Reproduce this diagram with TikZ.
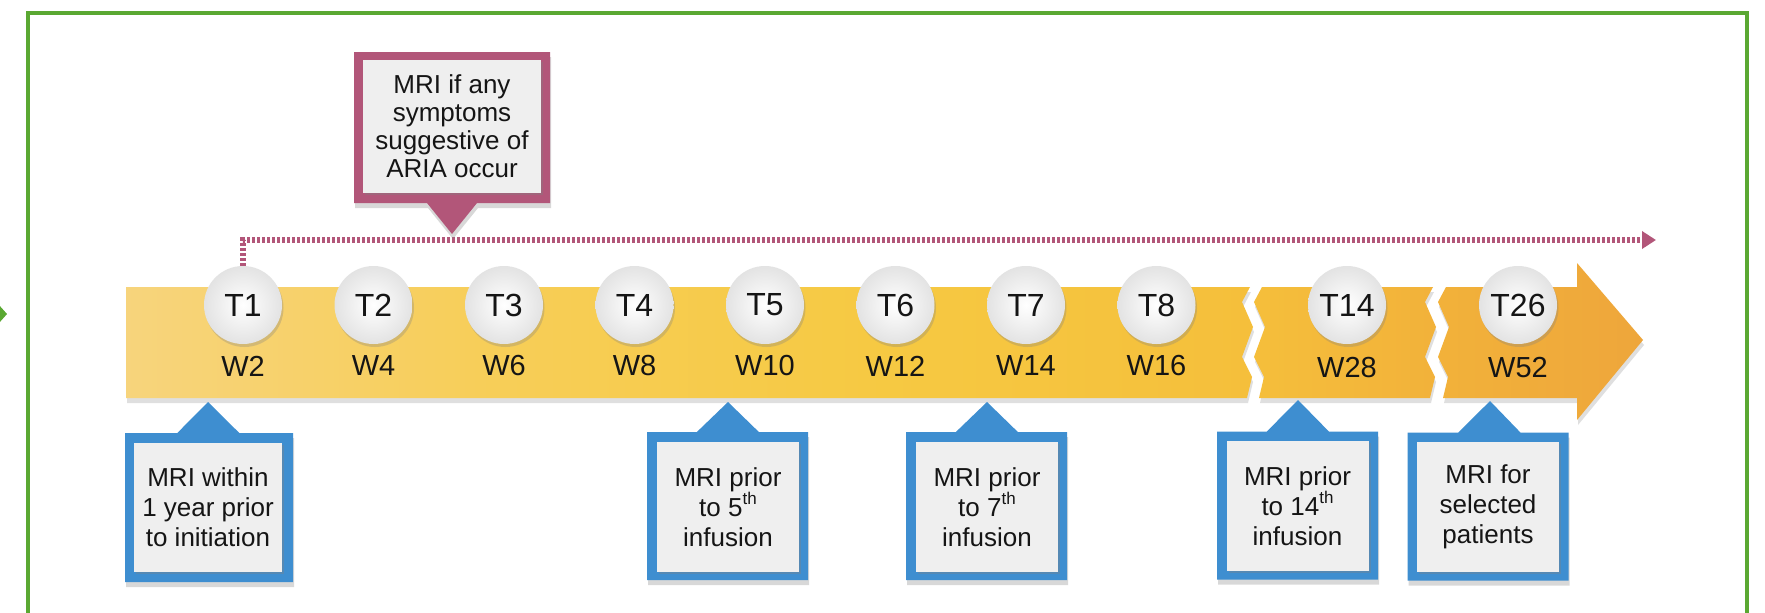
\documentclass[tikz,border=0pt]{standalone}
\usepackage{fontspec}
\setmainfont{Liberation Sans}
\usetikzlibrary{shapes.callouts,shadows,arrows.meta}
\definecolor{frameGreen}{HTML}{5AA832}
\definecolor{pinkC}{HTML}{B25679}
\definecolor{blueC}{HTML}{3E8ED0}
\definecolor{innerC}{HTML}{EFEFEF}
\definecolor{txt}{HTML}{151515}
\definecolor{barA}{HTML}{F7D47C}
\definecolor{barB}{HTML}{F7CE58}
\definecolor{barC}{HTML}{F6C942}
\definecolor{barD}{HTML}{F5BF3B}
\definecolor{barE}{HTML}{F2B23A}
\definecolor{barF}{HTML}{EEA63B}
\pgfdeclarehorizontalshading{barshade}{100bp}{color(0bp)=(barA); color(25bp)=(barA); color(37bp)=(barB); color(50bp)=(barC); color(62bp)=(barD); color(68bp)=(barE); color(75bp)=(barF); color(100bp)=(barF)}
\newcommand{\sth}{\raisebox{0.45em}{\fontsize{17}{17}\selectfont th}}
\begin{document}
\begin{tikzpicture}[x=1pt,y=-1pt,
  tcirc/.style={circle, minimum size=78, inner sep=0, inner color=white, outer color=black!11,
     drop shadow={shadow xshift=1.5pt, shadow yshift=-3pt, opacity=0.3},
     font=\fontsize{32}{32}\selectfont, text=txt},
  wlab/.style={inner sep=0, font=\fontsize{29}{29}\selectfont, text=txt},
  bluecall/.style={rectangle callout, fill=blueC, minimum width=161, minimum height=148, inner sep=0,
     callout pointer width=62, drop shadow={shadow xshift=1pt, shadow yshift=-5pt, opacity=0.3}},
  pinkcall/.style={rectangle callout, fill=pinkC, minimum width=196, minimum height=151, inner sep=0,
     callout pointer width=50, drop shadow={shadow xshift=1pt, shadow yshift=-5pt, opacity=0.3}},
  innerbox/.style={fill=innerC, minimum width=142, minimum height=130, inner sep=0, align=center,
     text=txt, font=\fontsize{26}{30}\selectfont,
     drop shadow={shadow xshift=2pt, shadow yshift=-2pt, opacity=0.35}},
  dotline/.style={pinkC, line width=6, dash pattern=on 3pt off 2pt, -{Triangle[length=14pt,width=17pt]}}
]
\useasboundingbox (0,0) rectangle (1765,613);
\clip (0,0) rectangle (1765,613);
\fill[white] (0,0) rectangle (1765,613);
% frame
\draw[frameGreen, line width=4] (28,650) -- (28,12.5) -- (1747,12.5) -- (1747,650);
\fill[frameGreen] (-1,305) -- (7,314) -- (-1,323) -- cycle;
% timeline bar
\shade[shading=barshade, drop shadow={shadow xshift=1pt, shadow yshift=-5pt, opacity=0.25}]
  (126,287) -- (1250,287) -- (1242,302) -- (1253,327) -- (1242,357) -- (1252,377) -- (1247,398) -- (126,398) -- cycle
  (1262,287) -- (1433,287) -- (1425,302) -- (1436,327) -- (1425,357) -- (1435,377) -- (1430,398) -- (1259,398)
     -- (1264,377) -- (1254,357) -- (1265,327) -- (1254,302) -- cycle
  (1446,287) -- (1577,287) -- (1577,263) -- (1643,340) -- (1577,420) -- (1577,398) -- (1443,398)
     -- (1448,377) -- (1438,357) -- (1449,327) -- (1438,302) -- cycle;
% circles
\node[tcirc] (T1) at (243,305) {T1};
\node[tcirc] (T2) at (373.5,305) {T2};
\node[tcirc] (T3) at (504,305) {T3};
\node[tcirc] (T4) at (634.5,305) {T4};
\node[tcirc] (T5) at (765,305) {T5};
\node[tcirc] (T6) at (895.5,305) {T6};
\node[tcirc] (T7) at (1026,305) {T7};
\node[tcirc] (T8) at (1156.5,305) {T8};
\node[tcirc] (T14) at (1347,305) {T14};
\node[tcirc] (T26) at (1518,305) {T26};
% week labels
\node[wlab] (W2) at (243,366) {W2};
\node[wlab] (W4) at (373.5,366) {W4};
\node[wlab] (W6) at (504,366) {W6};
\node[wlab] (W8) at (634.5,366) {W8};
\node[wlab] (W10) at (765,366) {W10};
\node[wlab] (W12) at (895.5,366) {W12};
\node[wlab] (W14) at (1026,366) {W14};
\node[wlab] (W16) at (1156.5,366) {W16};
\node[wlab] (W28) at (1347,368) {W28};
\node[wlab] (W52) at (1518,368) {W52};
% dotted arrow
\coordinate (dend) at (1656,240);
\draw[dotline] (T1.north) |- (dend);
% pink callout
\node[pinkcall, callout absolute pointer={(452,234)}] (P) at (452,127.5) {};
\node[innerbox, minimum width=178, minimum height=133, font=\fontsize{26}{28}\selectfont] (Ptxt) at (452,126)
  {MRI if any\\symptoms\\suggestive of\\ARIA occur};
% blue callouts
\node[bluecall, minimum width=168, minimum height=149, callout absolute pointer={(208,402)}] (B1) at (209,507.5) {};
\node[innerbox, minimum width=148, minimum height=129] (B1txt) at (208,507) {MRI within\\1 year prior\\to initiation};
\node[bluecall, callout absolute pointer={(728,402)}] (B2) at (727.5,506) {};
\node[innerbox] (B2txt) at (728,507) {MRI prior\\to 5\sth\\infusion};
\node[bluecall, callout absolute pointer={(987,402)}] (B3) at (986.5,506) {};
\node[innerbox] (B3txt) at (987,507) {MRI prior\\to 7\sth\\infusion};
\node[bluecall, callout absolute pointer={(1298,400)}] (B4) at (1297.5,505.5) {};
\node[innerbox] (B4txt) at (1297.5,506) {MRI prior\\to 14\sth\\infusion};
\node[bluecall, callout absolute pointer={(1490,401)}] (B5) at (1488,506.5) {};
\node[innerbox] (B5txt) at (1488,507) {MRI for\\selected\\patients};
\end{tikzpicture}
\end{document}
